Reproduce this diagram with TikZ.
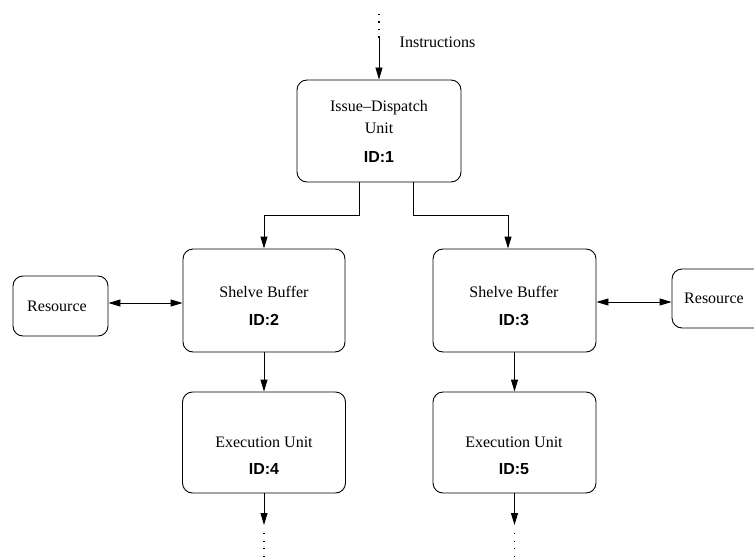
\documentclass[tikz,border=0pt]{standalone}
\usepackage{fontspec}
\setmainfont{Liberation Serif}
\newfontfamily\idfont{Liberation Sans}
\usetikzlibrary{arrows.meta}

\tikzset{
  unitbox/.style={draw, line width=0.9pt, rounded corners=10pt, inner sep=0pt},
  lbl/.style={inner sep=0pt, font=\fontsize{16}{19}\selectfont},
  idlbl/.style={inner sep=0pt, font=\idfont\bfseries\fontsize{16}{19}\selectfont},
  arr/.style={line width=0.9pt, -{Triangle[length=12pt,width=7pt]}},
  dbl/.style={line width=0.9pt, {Triangle[length=12pt,width=7pt]}-{Triangle[length=12pt,width=7pt]}},
  dots/.style={line width=1.3pt, dash pattern=on 1.3pt off 6.2pt},
}

\begin{document}
\begin{tikzpicture}[x=1pt, y=-1pt]
  \useasboundingbox (0,0) rectangle (754,559);

  % boxes
  \node[unitbox, minimum width=164pt, minimum height=102pt] (iss) at (379,131) {};
  \node[unitbox, minimum width=162pt, minimum height=103pt] (sb2) at (264,300.5) {};
  \node[unitbox, minimum width=163pt, minimum height=103pt] (sb3) at (514.5,300.5) {};
  \node[unitbox, minimum width=163pt, minimum height=101pt] (ex4) at (264,442.5) {};
  \node[unitbox, minimum width=163pt, minimum height=101pt] (ex5) at (514.5,442.5) {};
  \node[unitbox, minimum width=95pt, minimum height=60pt] (res1) at (60.5,306) {};
  \node[unitbox, minimum width=95pt, minimum height=59pt] (res2) at (719.5,298.5) {};

  % labels
  \node[lbl] (tin) at (437.5,42) {Instructions};
  \node[lbl] (t1a) at (379,108) {Issue--Dispatch};
  \node[lbl] (t1b) at (379,128) {Unit};
  \node[idlbl] (t1c) at (379,157) {ID:1};
  \node[lbl] (t2a) at (264,292) {Shelve Buffer};
  \node[idlbl] (t2b) at (264,320) {ID:2};
  \node[lbl] (t3a) at (514,292) {Shelve Buffer};
  \node[idlbl] (t3b) at (514,320) {ID:3};
  \node[lbl] (t4a) at (264,442) {Execution Unit};
  \node[idlbl] (t4b) at (264,469) {ID:4};
  \node[lbl] (t5a) at (514,442) {Execution Unit};
  \node[idlbl] (t5b) at (514,469) {ID:5};
  \node[lbl] (tr1) at (57,306) {Resource};
  \node[lbl] (tr2) at (714,298) {Resource};

  % incoming instruction stream
  \coordinate (inTop) at (379,38);
  \draw[dots] (379,14) -- (inTop);
  \draw[arr] (inTop) -- (iss.north);

  % dispatch to the two shelve buffers
  \draw[arr] ([xshift=-20pt]iss.south) -- ++(0,33) -| (sb2.north);
  \draw[arr] ([xshift=34pt]iss.south) -- ++(0,33) -| ([xshift=-6.5pt]sb3.north);

  % resource links
  \draw[dbl] ([yshift=3pt]res1.east) -- ([yshift=3pt]res1.east -| sb2.west);
  \draw[dbl] ([yshift=-3.5pt]res2.west) -- ([yshift=-3.5pt]res2.west -| sb3.east);

  % buffers to execution units
  \draw[arr] (sb2.south) -- (ex4.north);
  \draw[arr] (sb3.south) -- (ex5.north);

  % outgoing streams
  \coordinate (out4) at (264,525);
  \coordinate (out5) at (514.5,525);
  \draw[arr] (ex4.south) -- (out4);
  \draw[arr] (ex5.south) -- (out5);
  \draw[dots] ([yshift=-8pt]out4) -- ++(0,30);
  \draw[dots] ([yshift=-8pt]out5) -- ++(0,30);
\end{tikzpicture}
\end{document}
